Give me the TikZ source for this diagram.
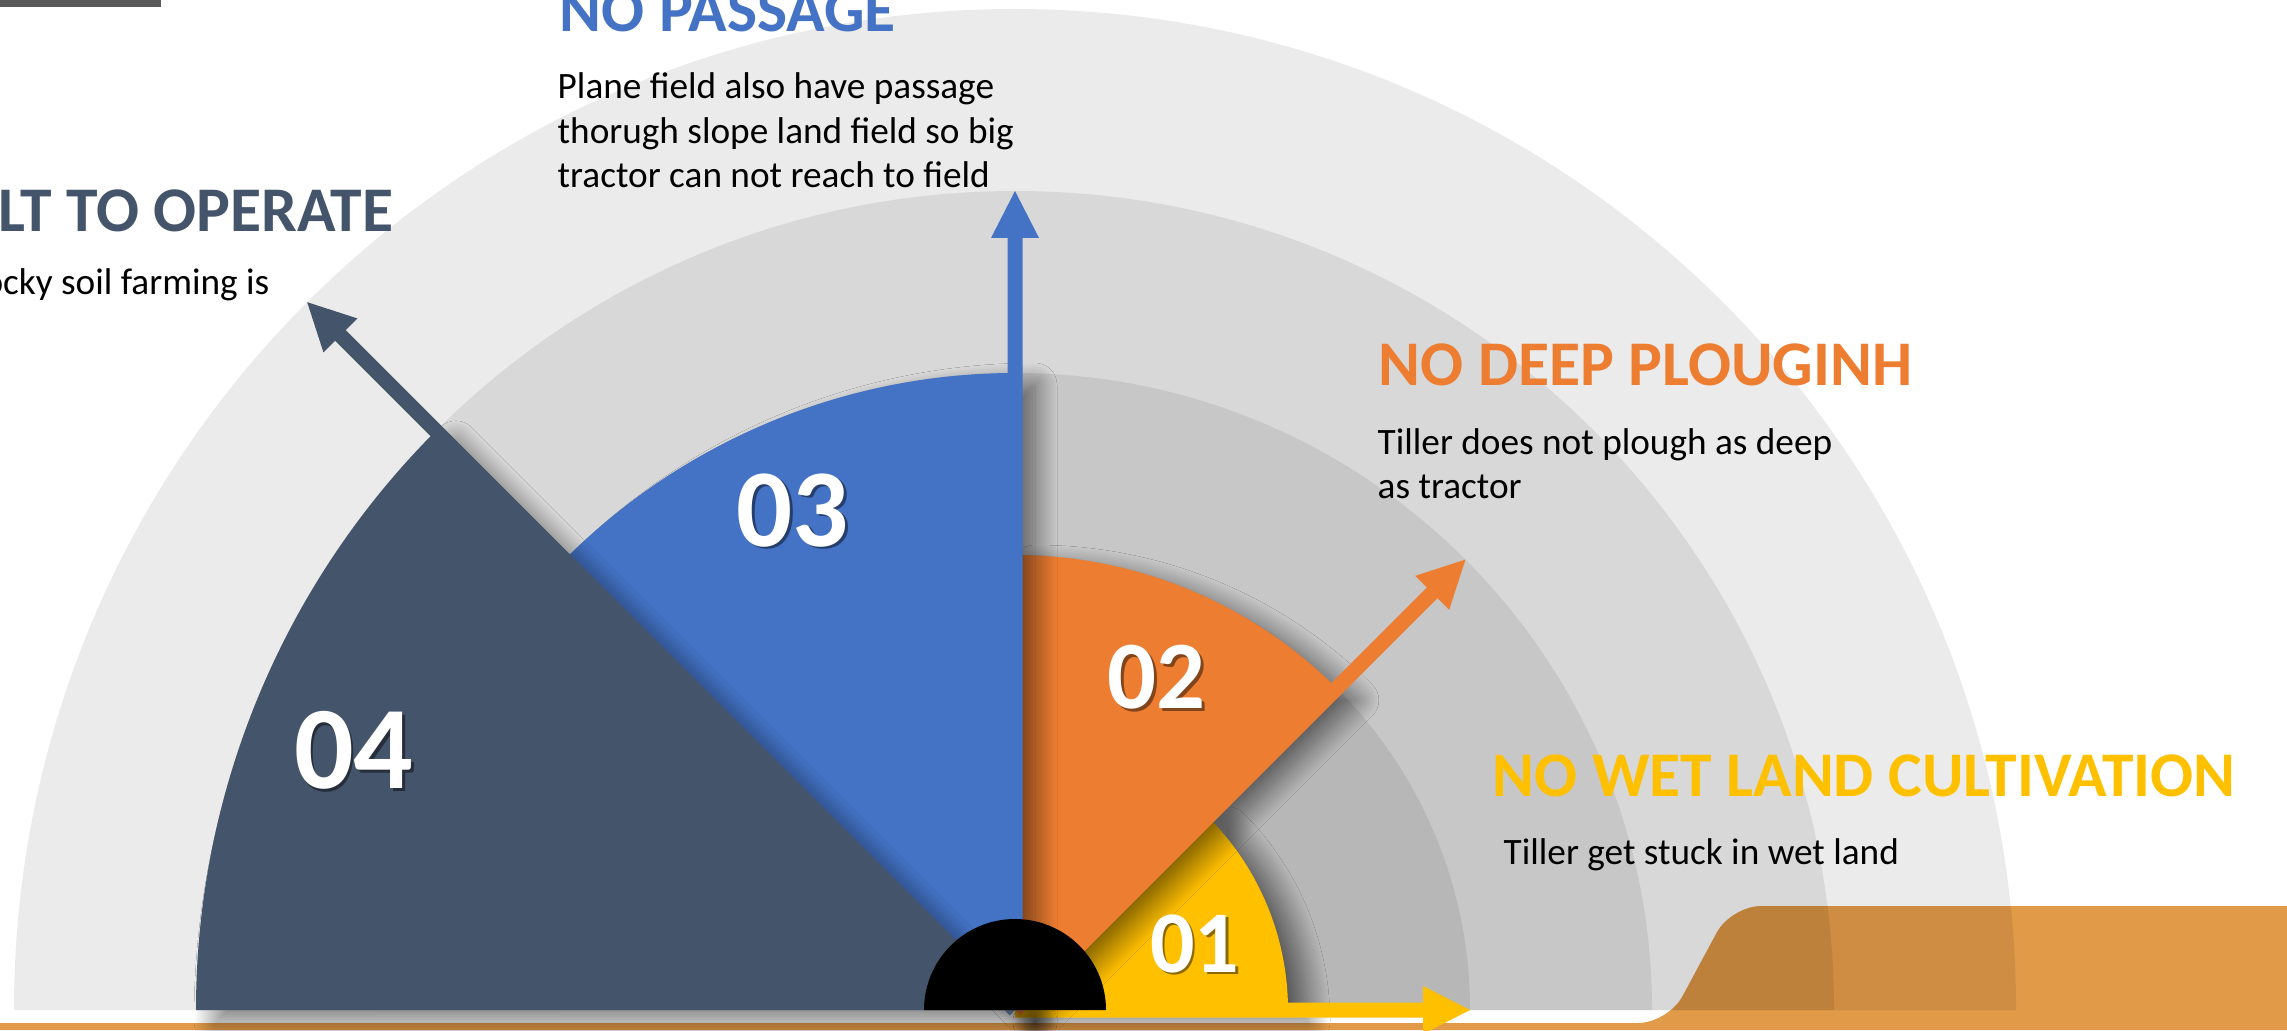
\documentclass[tikz,border=0pt]{standalone}
\usepackage{fontspec}
\setmainfont{Carlito}
\usetikzlibrary{calc,shadows.blur}
\definecolor{slate}{HTML}{44546A}
\definecolor{bluec}{HTML}{4472C4}
\definecolor{orangec}{HTML}{ED7D31}
\definecolor{yellowc}{HTML}{FFC000}
\definecolor{groundc}{HTML}{E09A48}
\definecolor{barc}{HTML}{595959}
\tikzset{
  heading/.style={anchor=base west, inner sep=0pt, font=\bfseries\fontsize{18.1}{22}\selectfont},
  bodytext/.style={anchor=base west, inner sep=0pt, text=black, font=\fontsize{10.6}{13}\selectfont},
  band/.style={fill=black, fill opacity=0.078},
  numtext/.style={inner sep=0pt, text=white, font=\bfseries\fontsize{#1}{#1}\selectfont},
  numshadow/.style={inner sep=0pt, text=black, text opacity=0.45, font=\bfseries\fontsize{#1}{#1}\selectfont},
  sectorshadow/.style={blur shadow={shadow xshift=0.2cm, shadow yshift=-0.12cm, shadow blur radius=0.22cm, shadow blur steps=40, shadow opacity=55}},
}
\newcommand{\sectorfill}[3]{% style, start angle, radius
  \path[#1] (C) -- ($(C)+(#2:#3)$) arc[start angle=#2, delta angle=45, radius=#3] -- cycle;}
\newcommand{\radialarrow}[3]{% style, angle, length
  \path[#1] ($(C)+({#2-90}:0.075)$)
    -- ($(C)+(#2:{#3-0.47})+({#2-90}:0.075)$)
    -- ($(C)+(#2:{#3-0.47})+({#2-90}:0.24)$)
    -- ($(C)+(#2:#3)$)
    -- ($(C)+(#2:{#3-0.47})+({#2+90}:0.24)$)
    -- ($(C)+(#2:{#3-0.47})+({#2+90}:0.075)$)
    -- ($(C)+({#2+90}:0.075)$) -- cycle;}
\begin{document}
\begin{tikzpicture}
\useasboundingbox (0,0) rectangle (22.87,10.30);
\fill[white] (0,0) rectangle (22.87,10.30);
\coordinate (C) at (10.15,0.20);
% ground strip
\fill[groundc] (-1,0) -- (-1,0.07) [rounded corners=0.3cm] -- (16.68,0.07) -- (17.31,1.24) -- (23.5,1.24) [sharp corners] -- (23.5,0) -- cycle;
% concentric bands
\foreach \r in {10.01,8.19,6.37,4.55}
  \fill[band] ($(C)+(\r,0)$) arc[start angle=0, end angle=180, radius=\r] -- cycle;
% sectors and arrows
\sectorfill{fill=yellowc, sectorshadow}{0}{2.73}
\radialarrow{fill=yellowc}{0}{4.55}
\sectorfill{fill=orangec, sectorshadow}{45}{4.55}
\radialarrow{fill=orangec}{45}{6.37}
\sectorfill{fill=bluec, sectorshadow}{90}{6.37}
\radialarrow{fill=bluec}{90}{8.19}
\sectorfill{fill=slate, sectorshadow}{135}{8.19}
\radialarrow{fill=slate}{135}{10.01}
% hub
\fill[black] ($(C)+(0.91,0)$) arc[start angle=0, end angle=180, radius=0.91] -- cycle;
% numbers
\node[numshadow=33.5] (n04s) at (3.562,2.770) {04};
\node[numtext=33.5] (n04) at (3.537,2.795) {04};
\node[numshadow=31.5] (n03s) at (7.952,5.170) {03};
\node[numtext=31.5] (n03) at (7.927,5.195) {03};
\node[numshadow=27.5] (n02s) at (11.592,3.500) {02};
\node[numtext=27.5] (n02) at (11.567,3.525) {02};
\node[numshadow=25] (n01s) at (11.971,0.838) {01};
\node[numtext=25] (n01) at (11.946,0.863) {01};
% texts
\node[heading, text=bluec] (h3) at (5.59,9.98) {NO PASSAGE};
\node[bodytext] (p1) at (5.57,9.31) {Plane field also have passage};
\node[bodytext] (p2) at (5.57,8.865) {thorugh slope land field so big};
\node[bodytext] (p3) at (5.57,8.42) {tractor can not reach to field};
\node[heading, text=slate, anchor=base east] (h4) at (3.94,7.98) {LT TO OPERATE};
\node[bodytext, anchor=base east] (r1) at (2.70,7.35) {ocky soil farming is};
\node[heading, text=orangec] (h2) at (13.78,6.44) {NO DEEP PLOUGINH};
\node[bodytext] (d1) at (13.77,5.76) {Tiller does not plough as deep};
\node[bodytext] (d2) at (13.77,5.32) {as tractor};
\node[heading, text=yellowc] (h1) at (14.92,2.34) {NO WET LAND CULTIVATION};
\node[bodytext] (w1) at (15.03,1.66) {Tiller get stuck in wet land};
% top-left bar
\fill[barc] (0,10.23) rectangle (1.61,10.30);
\end{tikzpicture}
\end{document}
